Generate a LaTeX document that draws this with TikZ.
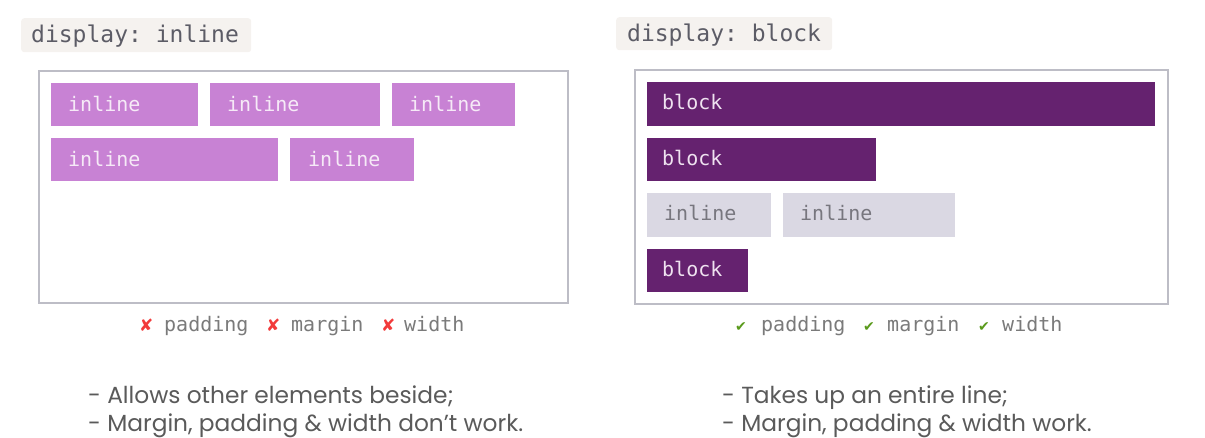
\documentclass[tikz,border=0pt]{standalone}
\usepackage{fontspec}
\setmainfont{Poppins}
\setmonofont{DejaVu Sans Mono}
\newfontfamily\symfont{DejaVu Sans}
\definecolor{codebg}{HTML}{F5F2EF}
\definecolor{codetxt}{HTML}{5C5C66}
\definecolor{framegray}{HTML}{BDBDC6}
\definecolor{pinkfill}{HTML}{C882D4}
\definecolor{pinktxt}{HTML}{F6EAF7}
\definecolor{purplefill}{HTML}{65226F}
\definecolor{purpletxt}{HTML}{EFE2F0}
\definecolor{greyfill}{HTML}{DAD8E3}
\definecolor{greytxt}{HTML}{77767E}
\definecolor{captxt}{HTML}{7A7A7A}
\definecolor{xred}{HTML}{F23A3A}
\definecolor{okgreen}{HTML}{5A9A1C}
\definecolor{bodytxt}{HTML}{5A5A5A}
\begin{document}
\begin{tikzpicture}[x=1pt,y=-1pt,
  codelabel/.style={fill=codebg, rounded corners=3pt, anchor=north west, inner sep=0pt},
  codetext/.style={anchor=base west, inner sep=0pt, text=codetxt, font=\ttfamily\fontsize{23}{26}\selectfont},
  frame/.style={draw=framegray, line width=2pt, anchor=north west, inner sep=0pt},
  inlinebox/.style={fill=pinkfill, anchor=north west, inner sep=0pt, minimum height=43pt},
  blockbox/.style={fill=purplefill, anchor=north west, inner sep=0pt, minimum height=44pt},
  greybox/.style={fill=greyfill, anchor=north west, inner sep=0pt, minimum height=44pt},
  boxtext/.style={anchor=base west, inner sep=0pt, font=\ttfamily\fontsize{20}{24}\selectfont},
  captext/.style={anchor=base west, inner sep=0pt, text=captxt, font=\ttfamily\fontsize{20}{24}\selectfont},
  crossmark/.style={anchor=base west, inner sep=0pt, text=xred, font=\symfont\fontsize{17}{17}\selectfont},
  checkmark/.style={anchor=base west, inner sep=0pt, text=okgreen, font=\symfont\fontsize{14}{14}\selectfont},
  bodytext/.style={anchor=base west, inner sep=0pt, text=bodytxt, font=\fontsize{23.3}{28}\selectfont}
]
\useasboundingbox (0,0) rectangle (1205,438);

% ---------- left: display inline ----------
\node[codelabel, minimum width=230pt, minimum height=34pt] (lcode) at (21,18) {};
\node[codetext] (lcodet) at (31,43) {display: inline};
\node[frame, minimum width=529pt, minimum height=232pt] (lframe) at (38,70) {};

\node[inlinebox, minimum width=147pt] (i1) at (51,83) {};
\node[inlinebox, minimum width=170pt] (i2) at (210,83) {};
\node[inlinebox, minimum width=123pt] (i3) at (392,83) {};
\node[inlinebox, minimum width=227pt] (i4) at (51,138) {};
\node[inlinebox, minimum width=124pt] (i5) at (290,138) {};
\node[boxtext, text=pinktxt] (i1t) at (68,112) {inline};
\node[boxtext, text=pinktxt] (i2t) at (227,112) {inline};
\node[boxtext, text=pinktxt] (i3t) at (409,112) {inline};
\node[boxtext, text=pinktxt] (i4t) at (68,167) {inline};
\node[boxtext, text=pinktxt] (i5t) at (308,167) {inline};

\node[crossmark] (lx1) at (139,331) {✘};
\node[captext] (lc1) at (164,332) {padding};
\node[crossmark] (lx2) at (266,331) {✘};
\node[captext] (lc2) at (291,332) {margin};
\node[crossmark] (lx3) at (381,331) {✘};
\node[captext] (lc3) at (404,332) {width};

\node[bodytext] (l1) at (88,403) {- Allows other elements beside;};
\node[bodytext] (l2) at (88,431) {- Margin, padding \& width don’t work.};

% ---------- right: display block ----------
\node[codelabel, minimum width=216pt, minimum height=33pt] (rcode) at (616,17) {};
\node[codetext] (rcodet) at (627,42) {display: block};
\node[frame, minimum width=533pt, minimum height=234pt] (rframe) at (634,69) {};

\node[blockbox, minimum width=508pt] (b1) at (647,82) {};
\node[blockbox, minimum width=229pt, minimum height=43pt] (b2) at (647,138) {};
\node[greybox, minimum width=124pt] (g1) at (647,193) {};
\node[greybox, minimum width=172pt] (g2) at (783,193) {};
\node[blockbox, minimum width=101pt, minimum height=43pt] (b3) at (647,249) {};
\node[boxtext, text=purpletxt] (b1t) at (662,110) {block};
\node[boxtext, text=purpletxt] (b2t) at (662,166) {block};
\node[boxtext, text=greytxt] (g1t) at (664,221) {inline};
\node[boxtext, text=greytxt] (g2t) at (800,221) {inline};
\node[boxtext, text=purpletxt] (b3t) at (662,277) {block};

\node[checkmark] (rk1) at (735,332) {✔};
\node[captext] (rc1) at (761,332) {padding};
\node[checkmark] (rk2) at (863,332) {✔};
\node[captext] (rc2) at (887,332) {margin};
\node[checkmark] (rk3) at (978,332) {✔};
\node[captext] (rc3) at (1002,332) {width};

\node[bodytext] (r1) at (722,403) {- Takes up an entire line;};
\node[bodytext] (r2) at (722,431) {- Margin, padding \& width work.};
\end{tikzpicture}
\end{document}
